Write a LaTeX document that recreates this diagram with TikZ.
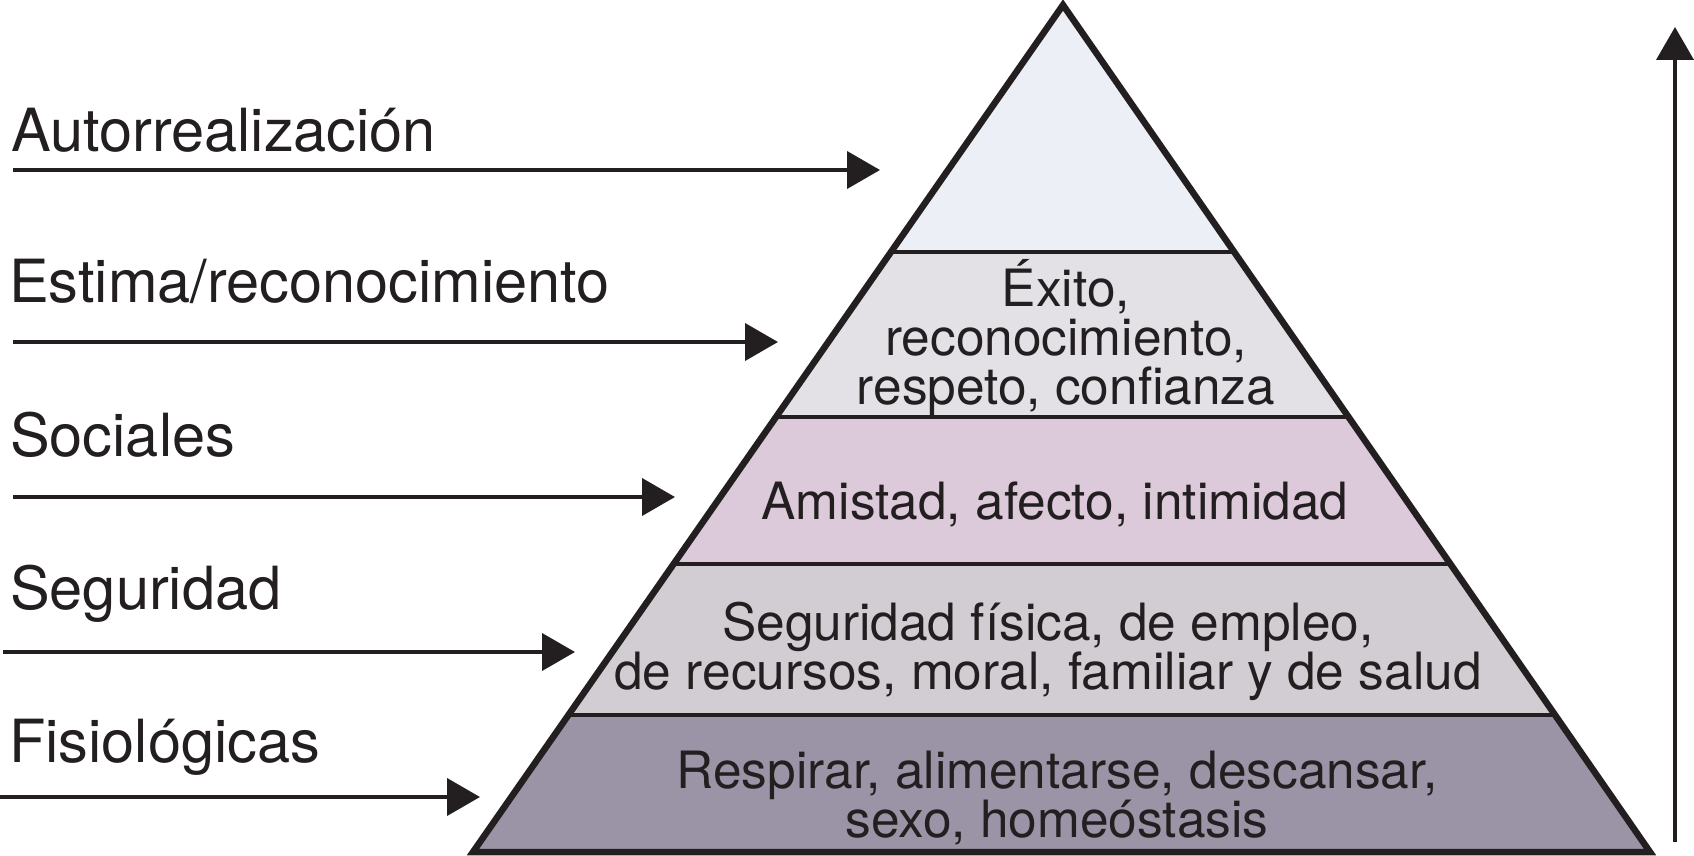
\documentclass[tikz,border=0pt]{standalone}
\usepackage{fontspec}
\setmainfont{TeX Gyre Heros}
\usetikzlibrary{arrows.meta,calc}
\definecolor{ink}{HTML}{231F20}
\definecolor{lvA}{HTML}{ECEFF5}
\definecolor{lvB}{HTML}{E3E0E6}
\definecolor{lvC}{HTML}{DCC9DA}
\definecolor{lvD}{HTML}{D2CDD2}
\definecolor{lvE}{HTML}{9B93A6}
\begin{document}
\begin{tikzpicture}[x=1pt,y=-1pt,
  lbl/.style={anchor=base west,inner sep=0pt,text=ink,font=\fontsize{59.5}{59.5}\selectfont},
  inner/.style={anchor=base,inner sep=0pt,align=center,text=ink,font=\fontsize{51.4}{49}\selectfont},
  levelarrow/.style={draw=ink,line width=4pt,-{Triangle[length=33pt,width=37pt]}},
  sepline/.style={draw=ink,line width=3.8pt},
  outline/.style={draw=ink,line width=6.5pt,line join=miter}]
\useasboundingbox (0,0) rectangle (1694,856);
% pyramid coordinates
\coordinate (apex) at (1063,5);
\coordinate (bl) at (473,852);
\coordinate (br) at (1650,852);
\coordinate (L1) at ($(apex)!0.2916!(bl)$);
\coordinate (R1) at ($(apex)!0.2916!(br)$);
\coordinate (L2) at ($(apex)!0.4864!(bl)$);
\coordinate (R2) at ($(apex)!0.4864!(br)$);
\coordinate (L3) at ($(apex)!0.6600!(bl)$);
\coordinate (R3) at ($(apex)!0.6600!(br)$);
\coordinate (L4) at ($(apex)!0.8383!(bl)$);
\coordinate (R4) at ($(apex)!0.8383!(br)$);
% bands
\fill[lvA] (apex) -- (R1) -- (L1) -- cycle;
\fill[lvB] (L1) -- (R1) -- (R2) -- (L2) -- cycle;
\fill[lvC] (L2) -- (R2) -- (R3) -- (L3) -- cycle;
\fill[lvD] (L3) -- (R3) -- (R4) -- (L4) -- cycle;
\fill[lvE] (L4) -- (R4) -- (br) -- (bl) -- cycle;
\draw[sepline] (L1) -- (R1);
\draw[sepline] (L2) -- (R2);
\draw[sepline] (L3) -- (R3);
\draw[sepline] (L4) -- (R4);
\draw[outline] (apex) -- (br) -- (bl) -- cycle;
% inner texts
\node[inner] (tB) at (1066,404) {Éxito,\\reconocimiento,\\respeto, confianza};
\node[inner] (tC) at (1055,519) {Amistad, afecto, intimidad};
\node[inner] (tD) at (1048,689) {Seguridad física, de empleo,\\de recursos, moral, familiar y de salud};
\node[inner] (tE) at (1057,837) {Respirar, alimentarse, descansar,\\sexo, homeóstasis};
% labels
\node[lbl] (nA) at (11,151) {Autorrealización};
\node[lbl] (nB) at (9,302) {Estima/reconocimiento};
\node[lbl] (nC) at (10,456) {Sociales};
\node[lbl] (nD) at (10,609) {Seguridad};
\node[lbl] (nE) at (9,762) {Fisiológicas};
% arrows
\coordinate (sA) at (13,170); \coordinate (eA) at (880,170);
\coordinate (sB) at (13,342); \coordinate (eB) at (778,342);
\coordinate (sC) at (13,497); \coordinate (eC) at (675,497);
\coordinate (sD) at (3,652);  \coordinate (eD) at (575,652);
\coordinate (sE) at (0,797);  \coordinate (eE) at (480,797);
\draw[levelarrow] (sA) -- (eA);
\draw[levelarrow] (sB) -- (eB);
\draw[levelarrow] (sC) -- (eC);
\draw[levelarrow] (sD) -- (eD);
\draw[levelarrow] (sE) -- (eE);
% vertical arrow
\coordinate (vS) at (1675,842);
\coordinate (vE) at (1675,27);
\draw[levelarrow] (vS) -- (vE);
\end{tikzpicture}
\end{document}
